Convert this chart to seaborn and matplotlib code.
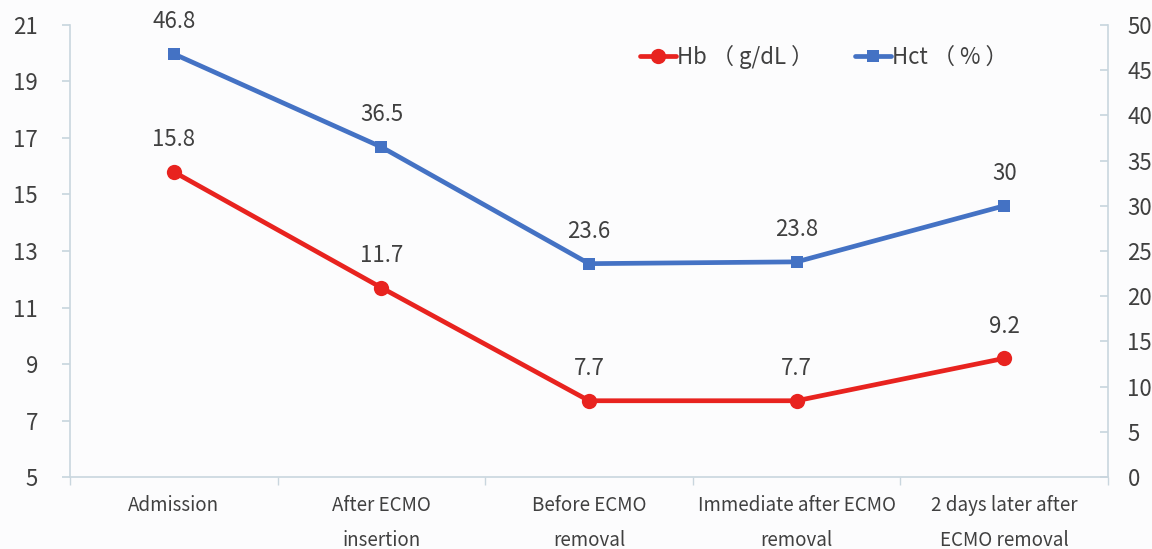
import matplotlib
matplotlib.use("Agg")
import matplotlib.pyplot as plt
from matplotlib.ticker import FixedLocator
import seaborn as sns
import pandas as pd

categories = ["Admission", "After ECMO\ninsertion", "Before ECMO\nremoval",
              "Immediate after ECMO\nremoval", "2 days later after\nECMO removal"]
hb = [15.8, 11.7, 7.7, 7.7, 9.2]
hct = [46.8, 36.5, 23.6, 23.8, 30]
hb_ticks = [5, 7, 9, 11, 13, 15, 17, 19, 21]
hct_ticks = [0, 5, 10, 15, 20, 25, 30, 35, 40, 45, 50]
hb_label = "Hb （ g/dL ）"
hct_label = "Hct （ % ）"

sns.set_theme(style="white")
plt.rcParams['font.family'] = ['Noto Sans CJK SC', 'DejaVu Sans']

RED = "#e8231f"
BLUE = "#4472c4"
TXT = "#404040"
SPINE = "#c9d6de"
BG = "#fcfcfd"

df = pd.DataFrame({"pos": list(range(len(categories))), "hb": hb, "hct": hct})

fig = plt.figure(figsize=(11.52, 5.49), dpi=100, facecolor=BG)
ax = fig.add_axes([0.0608, 0.1311, 0.9010, 0.8234])
ax.set_facecolor(BG)
ax2 = ax.twinx()

sns.lineplot(data=df, x="pos", y="hb", ax=ax, color=RED, lw=3.4, marker="o",
             markersize=11, markeredgewidth=0, label=hb_label, legend=False)
sns.lineplot(data=df, x="pos", y="hct", ax=ax2, color=BLUE, lw=3.4, marker="s",
             markersize=9, markeredgewidth=0, label=hct_label, legend=False)

for x, v in zip(df["pos"], hb):
    ax.annotate(f"{v:g}", (x, v), xytext=(0, 15), textcoords="offset points",
                ha="center", va="bottom", fontsize=16, color=TXT)
for x, v in zip(df["pos"], hct):
    ax2.annotate(f"{v:g}", (x, v), xytext=(0, 15), textcoords="offset points",
                 ha="center", va="bottom", fontsize=16, color=TXT)

ax.set_xlim(-0.5, len(categories) - 0.5)
ax.set_ylim(hb_ticks[0], hb_ticks[-1])
ax2.set_ylim(hct_ticks[0], hct_ticks[-1])
ax.yaxis.set_major_locator(FixedLocator(hb_ticks))
ax2.yaxis.set_major_locator(FixedLocator(hct_ticks))

ax.set_xticks(list(range(len(categories))))
ax.set_xticklabels(categories, fontsize=13.5, color=TXT, linespacing=1.85)
ax.xaxis.set_minor_locator(FixedLocator([i - 0.5 for i in range(len(categories) + 1)]))
ax.tick_params(axis="x", which="major", direction="in", length=5, color=SPINE, pad=13)
ax.tick_params(axis="x", which="minor", direction="out", length=6, color=SPINE, bottom=True)
ax.tick_params(axis="y", direction="out", length=6, color=SPINE, labelsize=16,
               labelcolor=TXT, pad=17, left=True)
ax2.tick_params(axis="y", direction="in", length=6, color=SPINE, labelsize=16,
                labelcolor=TXT, pad=14, right=True)

ax.set_xlabel("")
ax.set_ylabel("")
ax2.set_ylabel("")

for a in (ax, ax2):
    a.spines["top"].set_visible(False)
    for s in ("left", "right", "bottom"):
        a.spines[s].set_color(SPINE)
        a.spines[s].set_linewidth(1.2)
ax.spines["right"].set_visible(False)
ax2.spines["left"].set_visible(False)
ax2.spines["bottom"].set_visible(False)

h1, l1 = ax.get_legend_handles_labels()
h2, l2 = ax2.get_legend_handles_labels()
leg = ax2.legend(h1 + h2, l1 + l2, loc="upper left", bbox_to_anchor=(0.53, 1.0),
                 ncol=2, frameon=False, fontsize=16, handlelength=1.6,
                 handletextpad=0.05, columnspacing=1.9, labelcolor=TXT)

fig.savefig("out.png", dpi=100, facecolor=BG)
